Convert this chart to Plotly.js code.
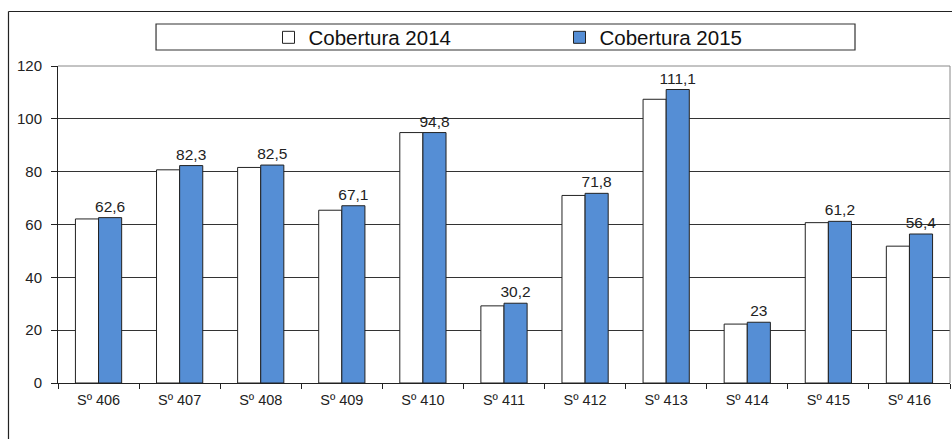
<!DOCTYPE html>
<html><head><meta charset="utf-8">
<script src="https://cdn.plot.ly/plotly-3.0.1.min.js"></script>
<style>html,body{margin:0;padding:0;background:#fff;}#chart{width:952px;height:439px;}</style>
</head><body><div id="chart"></div>
<script>
const categories = ["Sº 406","Sº 407","Sº 408","Sº 409","Sº 410","Sº 411","Sº 412","Sº 413","Sº 414","Sº 415","Sº 416"];
const cobertura2014 = [62.1, 80.7, 81.6, 65.4, 94.8, 29.2, 71.0, 107.4, 22.3, 60.7, 51.8];
const cobertura2015 = [62.6, 82.3, 82.5, 67.1, 94.8, 30.2, 71.8, 111.1, 23, 61.2, 56.4];
const seriesNames = ["Cobertura 2014", "Cobertura 2015"];
const yTicks = [0, 20, 40, 60, 80, 100, 120];

const labels2015 = cobertura2015.map(v => String(v).replace('.', ','));
const FONT = 'Liberation Sans, Arial, sans-serif';

const traces = [
  {type:'bar', name:seriesNames[0], x:categories, y:cobertura2014,
   marker:{color:'#ffffff', line:{color:'#222', width:1}}, hoverinfo:'none'},
  {type:'bar', name:seriesNames[1], x:categories, y:cobertura2015,
   marker:{color:'#558ed5', line:{color:'#222', width:1}},
   text:labels2015, textposition:'outside', constraintext:'none', cliponaxis:false,
   textfont:{family:FONT, size:15.5, color:'#222'}, hoverinfo:'none'}
];

const layout = {
  width:952, height:439,
  margin:{l:58, r:2, t:66, b:56},
  paper_bgcolor:'#fff', plot_bgcolor:'#fff',
  font:{family:FONT, color:'#222', size:13},
  barmode:'group', bargap:0.43, bargroupgap:0,
  showlegend:true,
  legend:{orientation:'h', x:0.236, y:1.153, xanchor:'left', yanchor:'top',
          bgcolor:'rgba(0,0,0,0)', borderwidth:0,
          font:{family:FONT, size:20.5, color:'#111'},
          entrywidth:246, entrywidthmode:'pixels', itemclick:false},
  xaxis:{type:'category', tickson:'boundaries', ticks:'outside', ticklen:5, tickcolor:'#222',
         showline:true, linecolor:'#222', linewidth:1, showgrid:false,
         tickfont:{size:14.5, color:'#222'}, ticklabelstandoff:4, range:[-0.5, 10.5], fixedrange:true},
  yaxis:{range:[0,120], tickvals:yTicks, ticks:'outside', ticklen:6, tickcolor:'#222',
         showline:true, linecolor:'#222', linewidth:1, showgrid:true, gridcolor:'#333', gridwidth:1,
         tickfont:{size:15, color:'#222'}, ticklabelstandoff:6, zeroline:false, fixedrange:true},
  shapes:[
    {type:'line', xref:'paper', yref:'paper', x0:0, x1:1, y0:1, y1:1, line:{color:'#888', width:1}},
    {type:'line', xref:'paper', yref:'paper', x0:1, x1:1, y0:0, y1:1, line:{color:'#888', width:1}},
    {type:'rect', xref:'paper', yref:'paper', x0:0.1099, x1:0.8935, y0:1.0505, y1:1.1325,
     line:{color:'#333', width:1.2}, fillcolor:'rgba(0,0,0,0)'},
    {type:'line', xref:'paper', yref:'paper', x0:-0.0555, x1:1.1, y0:1.172, y1:1.172, line:{color:'#222', width:1.2}},
    {type:'line', xref:'paper', yref:'paper', x0:-0.0555, x1:-0.0555, y0:1.172, y1:-0.3, line:{color:'#222', width:1.2}}
  ]
};
Plotly.newPlot('chart', traces, layout, {displayModeBar:false, staticPlot:true});
</script></body></html>
